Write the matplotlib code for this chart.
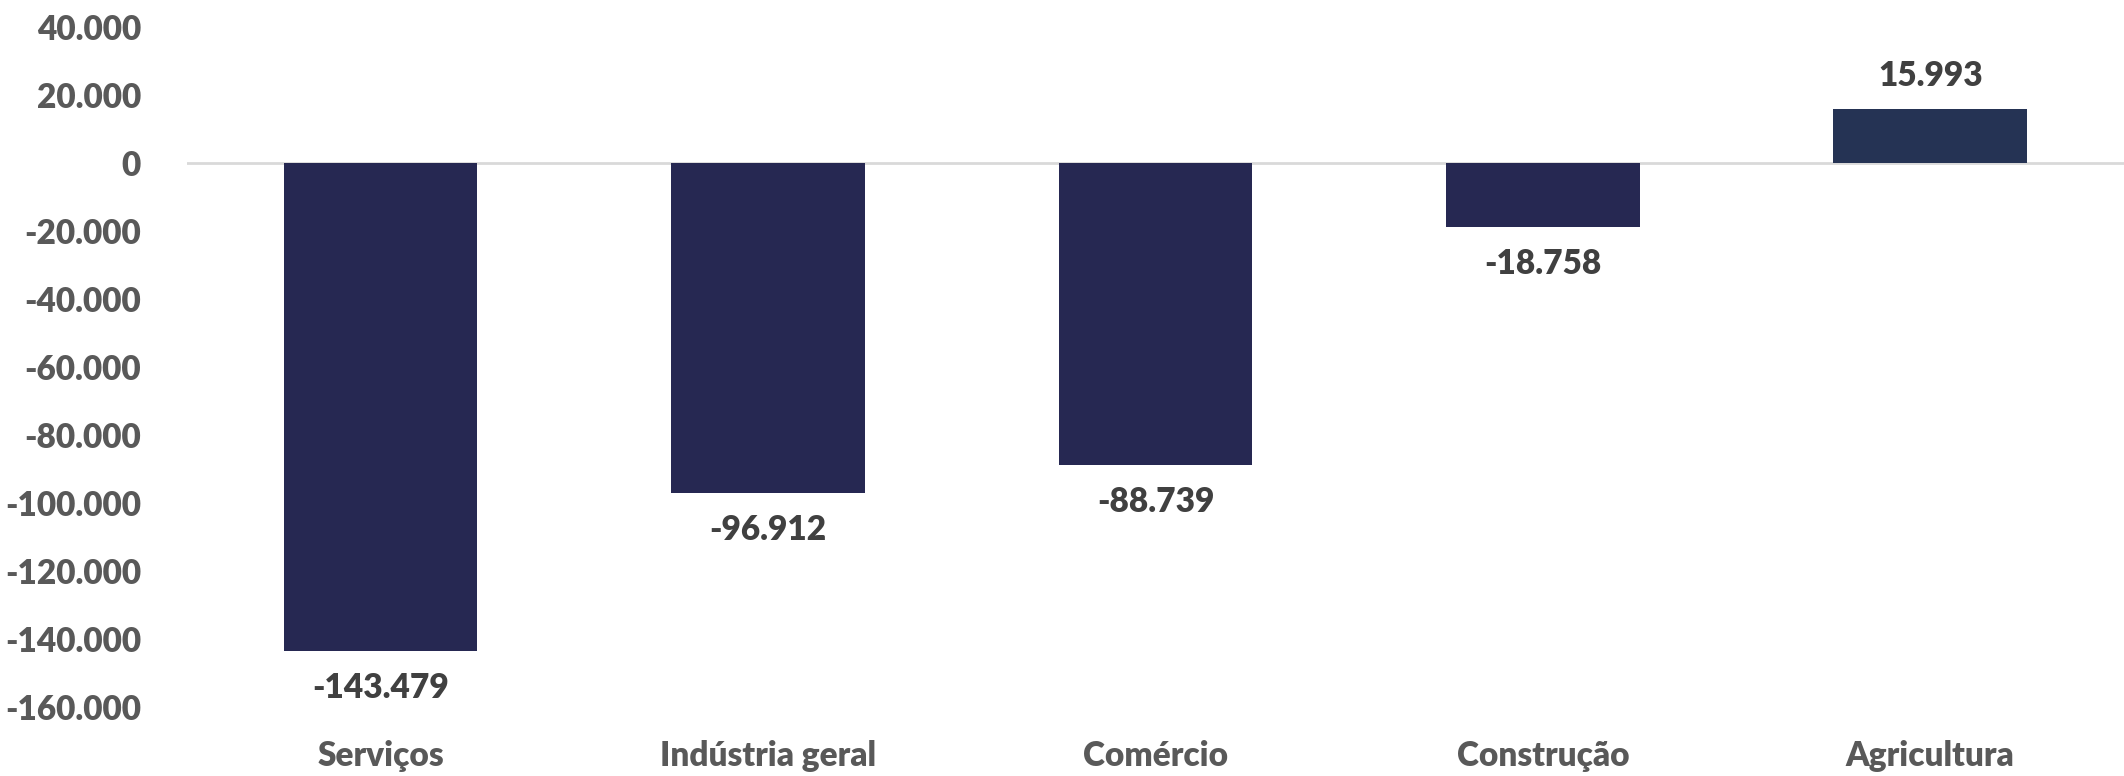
import matplotlib
matplotlib.use("Agg")
import matplotlib.pyplot as plt
from matplotlib.ticker import FuncFormatter

# dados
setores = ["Serviços", "Indústria geral", "Comércio", "Construção", "Agricultura"]
saldo = [-143479, -96912, -88739, -18758, 15993]
cores = ["#262852", "#262852", "#262852", "#262852", "#253354"]

plt.rcParams["font.family"] = ["Lato", "DejaVu Sans"]

def fmt_pt(v, pos=None):
    return f"{int(v):,}".replace(",", ".")

fig = plt.figure(figsize=(21.24, 7.76), dpi=100)
ax = fig.add_axes([0.088, 0.089, 0.912, 0.876])

x = range(len(setores))
ax.bar(x, saldo, width=0.5, color=cores, zorder=2)
ax.axhline(0, color="#d9d9d9", linewidth=2, zorder=1)

ax.set_xlim(-0.5, len(setores) - 0.5)
ax.set_ylim(-160000, 40000)
ax.set_yticks(range(-160000, 40001, 20000))
ax.yaxis.set_major_formatter(FuncFormatter(fmt_pt))
ax.set_xticks(list(x))
ax.set_xticklabels(setores)

for s in ax.spines.values():
    s.set_visible(False)
ax.tick_params(axis="both", length=0, labelsize=24, labelcolor="#595959")
ax.tick_params(axis="y", pad=33)
ax.tick_params(axis="x", pad=24)
for t in ax.get_xticklabels() + ax.get_yticklabels():
    t.set_fontweight("heavy")

# rótulos de dados
for i, v in enumerate(saldo):
    off = 33 if v > 0 else -37
    ax.annotate(fmt_pt(v), (i, v), xytext=(0, off), textcoords="offset pixels",
                ha="center", va="center", fontsize=24, fontweight="heavy", color="#404040")

fig.savefig("out.png", dpi=100, facecolor="white")
